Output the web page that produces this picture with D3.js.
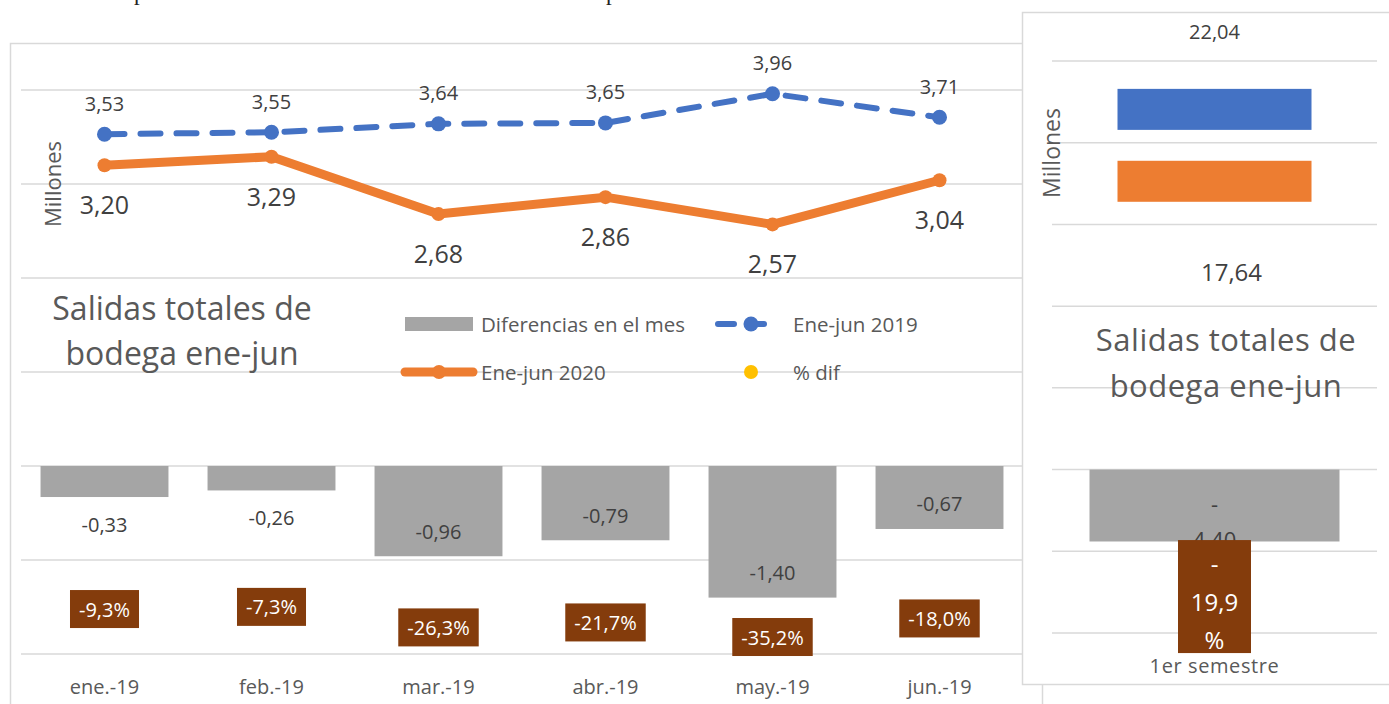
<!DOCTYPE html>
<html>
<head>
<meta charset="utf-8">
<script src="https://cdnjs.cloudflare.com/ajax/libs/d3/7.8.5/d3.min.js"></script>
<style>
  body { margin: 0; background: #fff; }
  svg { display: block; }
  text { font-family: "Open Sans", "Noto Sans", sans-serif; }
</style>
</head>
<body>
<script>
'use strict';

// monthly data (millions)
const months = ["ene.-19", "feb.-19", "mar.-19", "abr.-19", "may.-19", "jun.-19"];
const ventas2019 = [3.53, 3.55, 3.64, 3.65, 3.96, 3.71];
const ventas2020 = [3.20, 3.29, 2.68, 2.86, 2.57, 3.04];
const diferencias = [-0.33, -0.26, -0.96, -0.79, -1.40, -0.67];
const pctDif = [-9.3, -7.3, -26.3, -21.7, -35.2, -18.0];

// semester totals
const semestre = ["1er semestre"];
const total2019 = [22.04];
const total2020 = [17.64];
const totalDif = [-4.40];
const totalPct = [-19.9];

const leftTicks = [-2, -1, 0, 1, 2, 3, 4];
const rightTicks = [-10, -5, 0, 5, 10, 15, 20, 25];

const fmt = (v, d) => v.toFixed(d).replace('.', ',');

const C = {
  blue: "#4472C4", orange: "#ED7D31", grey: "#A5A5A5", yellow: "#FFC000",
  brown: "#843C0C", grid: "#D9D9D9", label: "#404040", axis: "#595959"
};

const svg = d3.select('body').append('svg')
  .attr('width', 1389)
  .attr('height', 704);

// clipped text line of the document above
svg.append('text').attr('x', 134).attr('y', 0).style('font-family', '"Liberation Serif", serif')
  .style('font-size', '23px').attr('fill', '#222').text('p');
svg.append('text').attr('x', 606).attr('y', 0).style('font-family', '"Liberation Serif", serif')
  .style('font-size', '23px').attr('fill', '#222').text('p');

// ---------------- left chart ----------------
const left = svg.append('g');
left.append('rect')
  .attr('x', 10.5).attr('y', 43.5).attr('width', 1032).attr('height', 720)
  .attr('fill', '#fff').attr('stroke', C.grid).attr('stroke-width', 1.5);

const x = d3.scaleBand().domain(months).range([21, 1023])
  .paddingInner(0.234).paddingOuter(0.117);
const y = d3.scaleLinear().domain([-2, 4]).range([654, 90]);
const y2 = d3.scaleLinear().domain([-50, 0]).range([653, 599]);
const cx = (i) => x(months[i]) + x.bandwidth() / 2;

left.append('g').selectAll('line').data(leftTicks).enter().append('line')
  .attr('x1', 21).attr('x2', 1023)
  .attr('y1', d => y(d)).attr('y2', d => y(d))
  .attr('stroke', C.grid).attr('stroke-width', 1.5);

// difference bars
left.append('g').selectAll('rect').data(diferencias).enter().append('rect')
  .attr('x', (d, i) => x(months[i]))
  .attr('width', x.bandwidth())
  .attr('y', d => y(Math.max(0, d)))
  .attr('height', d => Math.abs(y(d) - y(0)))
  .attr('fill', C.grey);

left.append('g').selectAll('text').data(diferencias).enter().append('text')
  .attr('x', (d, i) => cx(i))
  .attr('y', d => {
    const h = Math.abs(y(d) - y(0));
    return h > 50 ? y(d) - 25 : y(d) + 27;
  })
  .attr('text-anchor', 'middle').attr('dominant-baseline', 'central')
  .style('font-size', '20px').attr('fill', C.label)
  .text(d => fmt(d, 2));

// lines
const line = d3.line().x((d, i) => cx(i)).y(d => y(d));

left.append('path').datum(ventas2019)
  .attr('d', line).attr('fill', 'none')
  .attr('stroke', C.blue).attr('stroke-width', 6)
  .attr('stroke-dasharray', '20,16').attr('stroke-linecap', 'round');
left.append('g').selectAll('circle').data(ventas2019).enter().append('circle')
  .attr('cx', (d, i) => cx(i)).attr('cy', d => y(d)).attr('r', 7.5)
  .attr('fill', C.blue);

left.append('path').datum(ventas2020)
  .attr('d', line).attr('fill', 'none')
  .attr('stroke', C.orange).attr('stroke-width', 9)
  .attr('stroke-linejoin', 'round').attr('stroke-linecap', 'round');
left.append('g').selectAll('circle').data(ventas2020).enter().append('circle')
  .attr('cx', (d, i) => cx(i)).attr('cy', d => y(d)).attr('r', 7)
  .attr('fill', C.orange);

left.append('g').selectAll('text').data(ventas2019).enter().append('text')
  .attr('x', (d, i) => cx(i)).attr('y', d => y(d) - 31)
  .attr('text-anchor', 'middle').attr('dominant-baseline', 'central')
  .style('font-size', '20px').attr('fill', C.label)
  .text(d => fmt(d, 2));

left.append('g').selectAll('text').data(ventas2020).enter().append('text')
  .attr('x', (d, i) => cx(i)).attr('y', d => y(d) + 39)
  .attr('text-anchor', 'middle').attr('dominant-baseline', 'central')
  .style('font-size', '25px').attr('fill', C.label)
  .text(d => fmt(d, 2));

// % dif points with boxed labels
left.append('g').selectAll('circle').data(pctDif).enter().append('circle')
  .attr('cx', (d, i) => cx(i)).attr('cy', d => y2(d)).attr('r', 7)
  .attr('fill', C.yellow);

const pctG = left.append('g').selectAll('g').data(pctDif).enter().append('g')
  .attr('transform', (d, i) => 'translate(' + cx(i) + ',' + y2(d) + ')');
pctG.append('rect').attr('fill', C.brown);
pctG.append('text')
  .attr('text-anchor', 'middle').attr('dominant-baseline', 'central')
  .style('font-size', '20px').attr('fill', '#fff')
  .text(d => fmt(d, 1) + '%');
pctG.each(function() {
  const g = d3.select(this);
  const w = g.select('text').node().getComputedTextLength() + 18;
  g.select('rect').attr('x', -w / 2).attr('y', -19).attr('width', w).attr('height', 38);
});

// category axis
left.append('g').selectAll('text').data(months).enter().append('text')
  .attr('x', d => x(d) + x.bandwidth() / 2).attr('y', 686)
  .attr('text-anchor', 'middle').attr('dominant-baseline', 'central')
  .style('font-size', '20px').attr('fill', C.axis)
  .text(d => d);

left.append('text')
  .attr('transform', 'translate(52, 184)rotate(-90)')
  .attr('text-anchor', 'middle').attr('dominant-baseline', 'central')
  .style('font-size', '22px').attr('fill', C.axis)
  .text('Millones');

left.append('text').attr('x', 182).attr('y', 320)
  .attr('text-anchor', 'middle').style('font-size', '32px').attr('fill', C.axis)
  .text('Salidas totales de');
left.append('text').attr('x', 182).attr('y', 365)
  .attr('text-anchor', 'middle').style('font-size', '32px').attr('fill', C.axis)
  .text('bodega ene-jun');

// legend
const lg = left.append('g');
lg.append('rect').attr('x', 405).attr('y', 317).attr('width', 68).attr('height', 14).attr('fill', C.grey);
lg.append('text').attr('x', 481).attr('y', 324).attr('dominant-baseline', 'central')
  .style('font-size', '20.5px').attr('fill', C.axis).text('Diferencias en el mes');
lg.append('line').attr('x1', 718).attr('x2', 778).attr('y1', 324).attr('y2', 324)
  .attr('stroke', C.blue).attr('stroke-width', 6).attr('stroke-linecap', 'round')
  .attr('stroke-dasharray', '16,14');
lg.append('circle').attr('cx', 751).attr('cy', 324).attr('r', 7.5).attr('fill', C.blue);
lg.append('text').attr('x', 793).attr('y', 324).attr('dominant-baseline', 'central')
  .style('font-size', '20.5px').attr('fill', C.axis).text('Ene-jun 2019');

lg.append('line').attr('x1', 405).attr('x2', 473).attr('y1', 372).attr('y2', 372)
  .attr('stroke', C.orange).attr('stroke-width', 9).attr('stroke-linecap', 'round');
lg.append('circle').attr('cx', 439).attr('cy', 372).attr('r', 7).attr('fill', C.orange);
lg.append('text').attr('x', 481).attr('y', 372).attr('dominant-baseline', 'central')
  .style('font-size', '20.5px').attr('fill', C.axis).text('Ene-jun 2020');
lg.append('circle').attr('cx', 751).attr('cy', 372).attr('r', 7).attr('fill', C.yellow);
lg.append('text').attr('x', 793).attr('y', 372).attr('dominant-baseline', 'central')
  .style('font-size', '20.5px').attr('fill', C.axis).text('% dif');

// ---------------- right chart ----------------
const right = svg.append('g');
right.append('rect')
  .attr('x', 1022.5).attr('y', 12.5).attr('width', 400).attr('height', 672)
  .attr('fill', '#fff').attr('stroke', C.grid).attr('stroke-width', 1.5);

const xr = d3.scaleBand().domain(semestre).range([1052, 1377])
  .paddingInner(0.2).paddingOuter(0.12);
const yr = d3.scaleLinear().domain([-10, 25]).range([633, 61]);
const yr2 = d3.scaleLinear().domain([-25, 0]).range([629, 470]);
const rc = xr(semestre[0]) + xr.bandwidth() / 2;

right.append('g').selectAll('line').data(rightTicks).enter().append('line')
  .attr('x1', 1052).attr('x2', 1377)
  .attr('y1', d => yr(d)).attr('y2', d => yr(d))
  .attr('stroke', C.grid).attr('stroke-width', 1.5);

right.append('g').selectAll('rect').data(totalDif).enter().append('rect')
  .attr('x', xr(semestre[0])).attr('width', xr.bandwidth())
  .attr('y', d => yr(Math.max(0, d)))
  .attr('height', d => Math.abs(yr(d) - yr(0)))
  .attr('fill', C.grey);

right.append('g').selectAll('text').data(totalDif).enter().append('text')
  .attr('x', rc).attr('y', d => yr(0) + 42)
  .attr('text-anchor', 'middle').style('font-size', '22px').attr('fill', C.label)
  .each(function(d) {
    const s = fmt(d, 2);
    d3.select(this).append('tspan').attr('x', rc).attr('dy', 0).text(s.slice(0, 1));
    d3.select(this).append('tspan').attr('x', rc).attr('dy', 36).text(s.slice(1));
  });

// dash markers for the totals
const dashW = 194, dashH = 41;
right.append('g').selectAll('rect').data(total2019).enter().append('rect')
  .attr('x', rc - dashW / 2).attr('width', dashW)
  .attr('y', d => yr(d) - dashH / 2).attr('height', dashH)
  .attr('fill', C.blue);
right.append('g').selectAll('rect').data(total2020).enter().append('rect')
  .attr('x', rc - dashW / 2).attr('width', dashW)
  .attr('y', d => yr(d) - dashH / 2).attr('height', dashH)
  .attr('fill', C.orange);

right.append('g').selectAll('text').data(total2019).enter().append('text')
  .attr('x', rc).attr('y', d => yr(d) - 78)
  .attr('text-anchor', 'middle').attr('dominant-baseline', 'central')
  .style('font-size', '20px').attr('fill', C.label)
  .text(d => fmt(d, 2));
right.append('g').selectAll('text').data(total2020).enter().append('text')
  .attr('x', rc + 17).attr('y', d => yr(d) + 90)
  .attr('text-anchor', 'middle').attr('dominant-baseline', 'central')
  .style('font-size', '24px').attr('fill', C.label)
  .text(d => fmt(d, 2));

// % dif total box
const rp = right.append('g').selectAll('g').data(totalPct).enter().append('g')
  .attr('transform', d => 'translate(' + rc + ',' + yr2(d) + ')');
rp.append('circle').attr('r', 7).attr('fill', C.yellow);
rp.append('rect').attr('x', -36.5).attr('y', -56.5).attr('width', 73).attr('height', 113)
  .attr('fill', C.brown);
rp.append('text')
  .attr('text-anchor', 'middle').style('font-size', '24px').attr('fill', '#fff')
  .each(function(d) {
    const s = fmt(d, 1);
    const t = d3.select(this);
    t.append('tspan').attr('x', 0).attr('y', -24).text(s.slice(0, 1));
    t.append('tspan').attr('x', 0).attr('y', 14).text(s.slice(1));
    t.append('tspan').attr('x', 0).attr('y', 52).text('%');
  });

right.append('text').attr('x', rc).attr('y', 665)
  .attr('text-anchor', 'middle').attr('dominant-baseline', 'central')
  .style('font-size', '20px').style('letter-spacing', '0.6px').attr('fill', C.axis)
  .text(semestre[0]);

right.append('text')
  .attr('transform', 'translate(1051, 153)rotate(-90)')
  .attr('text-anchor', 'middle').attr('dominant-baseline', 'central')
  .style('font-size', '23px').attr('fill', C.axis)
  .text('Millones');

right.append('text').attr('x', 1226).attr('y', 351)
  .attr('text-anchor', 'middle').style('font-size', '31px').attr('fill', C.axis)
  .style('letter-spacing', '0.5px')
  .text('Salidas totales de');
right.append('text').attr('x', 1226).attr('y', 397)
  .attr('text-anchor', 'middle').style('font-size', '31px').attr('fill', C.axis)
  .style('letter-spacing', '0.5px')
  .text('bodega ene-jun');
</script>
</body>
</html>
